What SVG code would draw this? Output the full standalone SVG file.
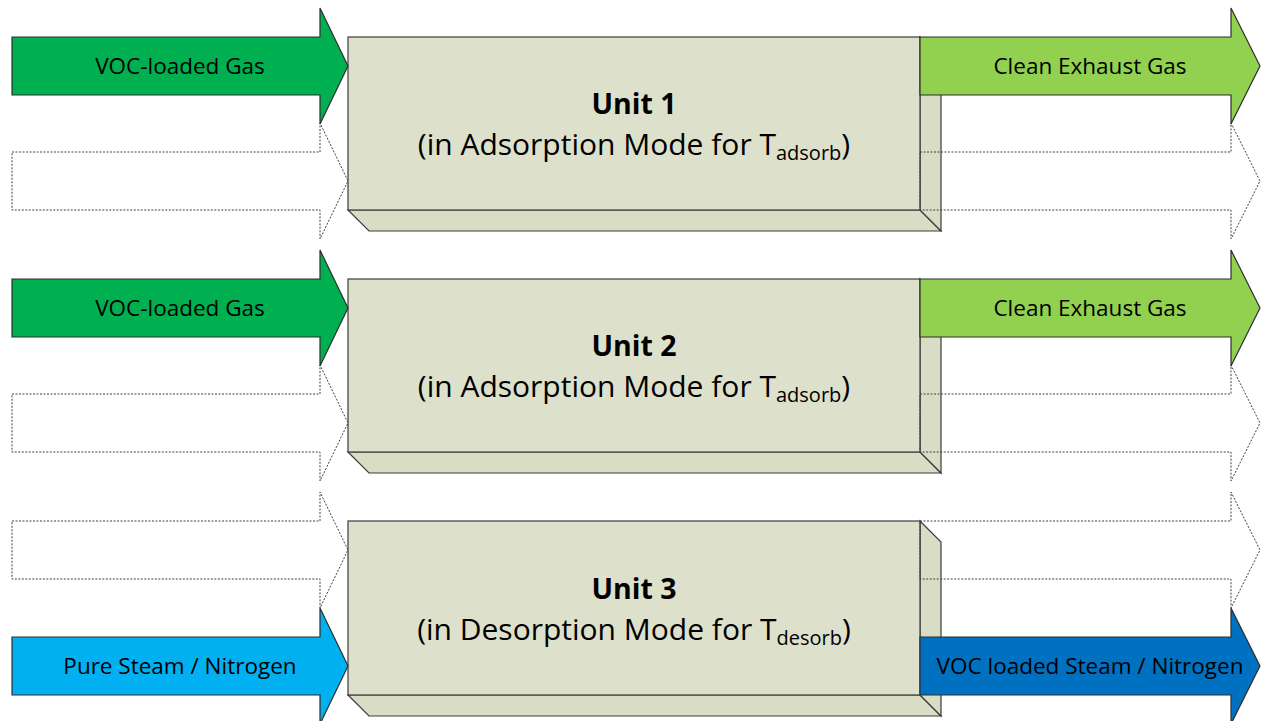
<svg xmlns="http://www.w3.org/2000/svg" width="1261" height="721" viewBox="0 0 1261 721">
<style>
.bg{fill:#ffffff}
.front{fill:#DDE0CB;stroke:#3C3C3C;stroke-width:1.2}
.side{fill:#D9DDC5;stroke:#3C3C3C;stroke-width:1.2}
.solid{stroke:#2E2E2E;stroke-width:1.2;stroke-linejoin:miter}
.dotted{fill:none;stroke:#404040;stroke-width:1;stroke-dasharray:2 1.5}
.g1{fill:#00B050}
.g2{fill:#92D050}
.b1{fill:#00B0F0}
.b2{fill:#0070C0}
.lbl{font-family:"Open Sans","Liberation Sans",sans-serif;font-size:22.5px;fill:#000;text-anchor:middle}
.ttl{font-family:"Open Sans","Liberation Sans",sans-serif;font-size:28.5px;font-weight:bold;fill:#000;text-anchor:middle}
.sub{font-family:"Open Sans","Liberation Sans",sans-serif;font-size:30px;fill:#000;text-anchor:middle}
</style>
<defs>
<path id="arrL" d="M12,0 H320 V-29 L348,29 L320,87 V58 H12 Z"/>
<path id="arrR" d="M920,0 H1231 V-29 L1260,29 L1231,87 V58 H920 Z"/>
</defs>
<rect class="bg" x="0" y="0" width="1261" height="721"/>

<g id="connectors">
<use href="#arrL" class="dotted" x="0" y="152"/>
<use href="#arrL" class="dotted" x="0" y="394"/>
<use href="#arrL" class="dotted" x="0" y="521"/>
</g>

<g id="unit1">
<path class="side" d="M348,210 L920,210 L941,231 L369,231 Z"/>
<path class="side" d="M920,37 L941,58 L941,231 L920,210 Z"/>
<rect class="front" x="348" y="37" width="572" height="173"/>
<text class="ttl" x="634" y="114">Unit 1</text>
<text class="sub" x="634" y="155">(in Adsorption Mode for T<tspan font-size="20" dy="5">adsorb</tspan><tspan dy="-5">)</tspan></text>
</g>

<g id="unit2">
<path class="side" d="M348,452 L920,452 L941,473 L369,473 Z"/>
<path class="side" d="M920,279 L941,300 L941,473 L920,452 Z"/>
<rect class="front" x="348" y="279" width="572" height="173"/>
<text class="ttl" x="634" y="356">Unit 2</text>
<text class="sub" x="634" y="397">(in Adsorption Mode for T<tspan font-size="20" dy="5">adsorb</tspan><tspan dy="-5">)</tspan></text>
</g>

<g id="unit3">
<path class="side" d="M348,695 L920,695 L941,716 L369,716 Z"/>
<path class="side" d="M920,521 L941,542 L941,716 L920,695 Z"/>
<rect class="front" x="348" y="521" width="572" height="174"/>
<text class="ttl" x="634" y="599">Unit 3</text>
<text class="sub" x="634" y="640">(in Desorption Mode for T<tspan font-size="20" dy="5">desorb</tspan><tspan dy="-5">)</tspan></text>
</g>

<g id="in1">
<use href="#arrL" class="solid g1" x="0" y="37"/>
<text class="lbl" x="180" y="74">VOC-loaded Gas</text>
</g>
<g id="in2">
<use href="#arrL" class="solid g1" x="0" y="279"/>
<text class="lbl" x="180" y="316">VOC-loaded Gas</text>
</g>
<g id="in3">
<use href="#arrL" class="solid b1" x="0" y="637"/>
<text class="lbl" x="180" y="674">Pure Steam / Nitrogen</text>
</g>

<g id="out-dotted">
<use href="#arrR" class="dotted" x="0" y="152"/>
<use href="#arrR" class="dotted" x="0" y="394"/>
<use href="#arrR" class="dotted" x="0" y="521"/>
</g>

<g id="out1">
<use href="#arrR" class="solid g2" x="0" y="37"/>
<text class="lbl" x="1090" y="74">Clean Exhaust Gas</text>
</g>
<g id="out2">
<use href="#arrR" class="solid g2" x="0" y="279"/>
<text class="lbl" x="1090" y="316">Clean Exhaust Gas</text>
</g>
<g id="out3">
<use href="#arrR" class="solid b2" x="0" y="637"/>
<text class="lbl" x="1090" y="674">VOC loaded Steam / Nitrogen</text>
</g>
</svg>
